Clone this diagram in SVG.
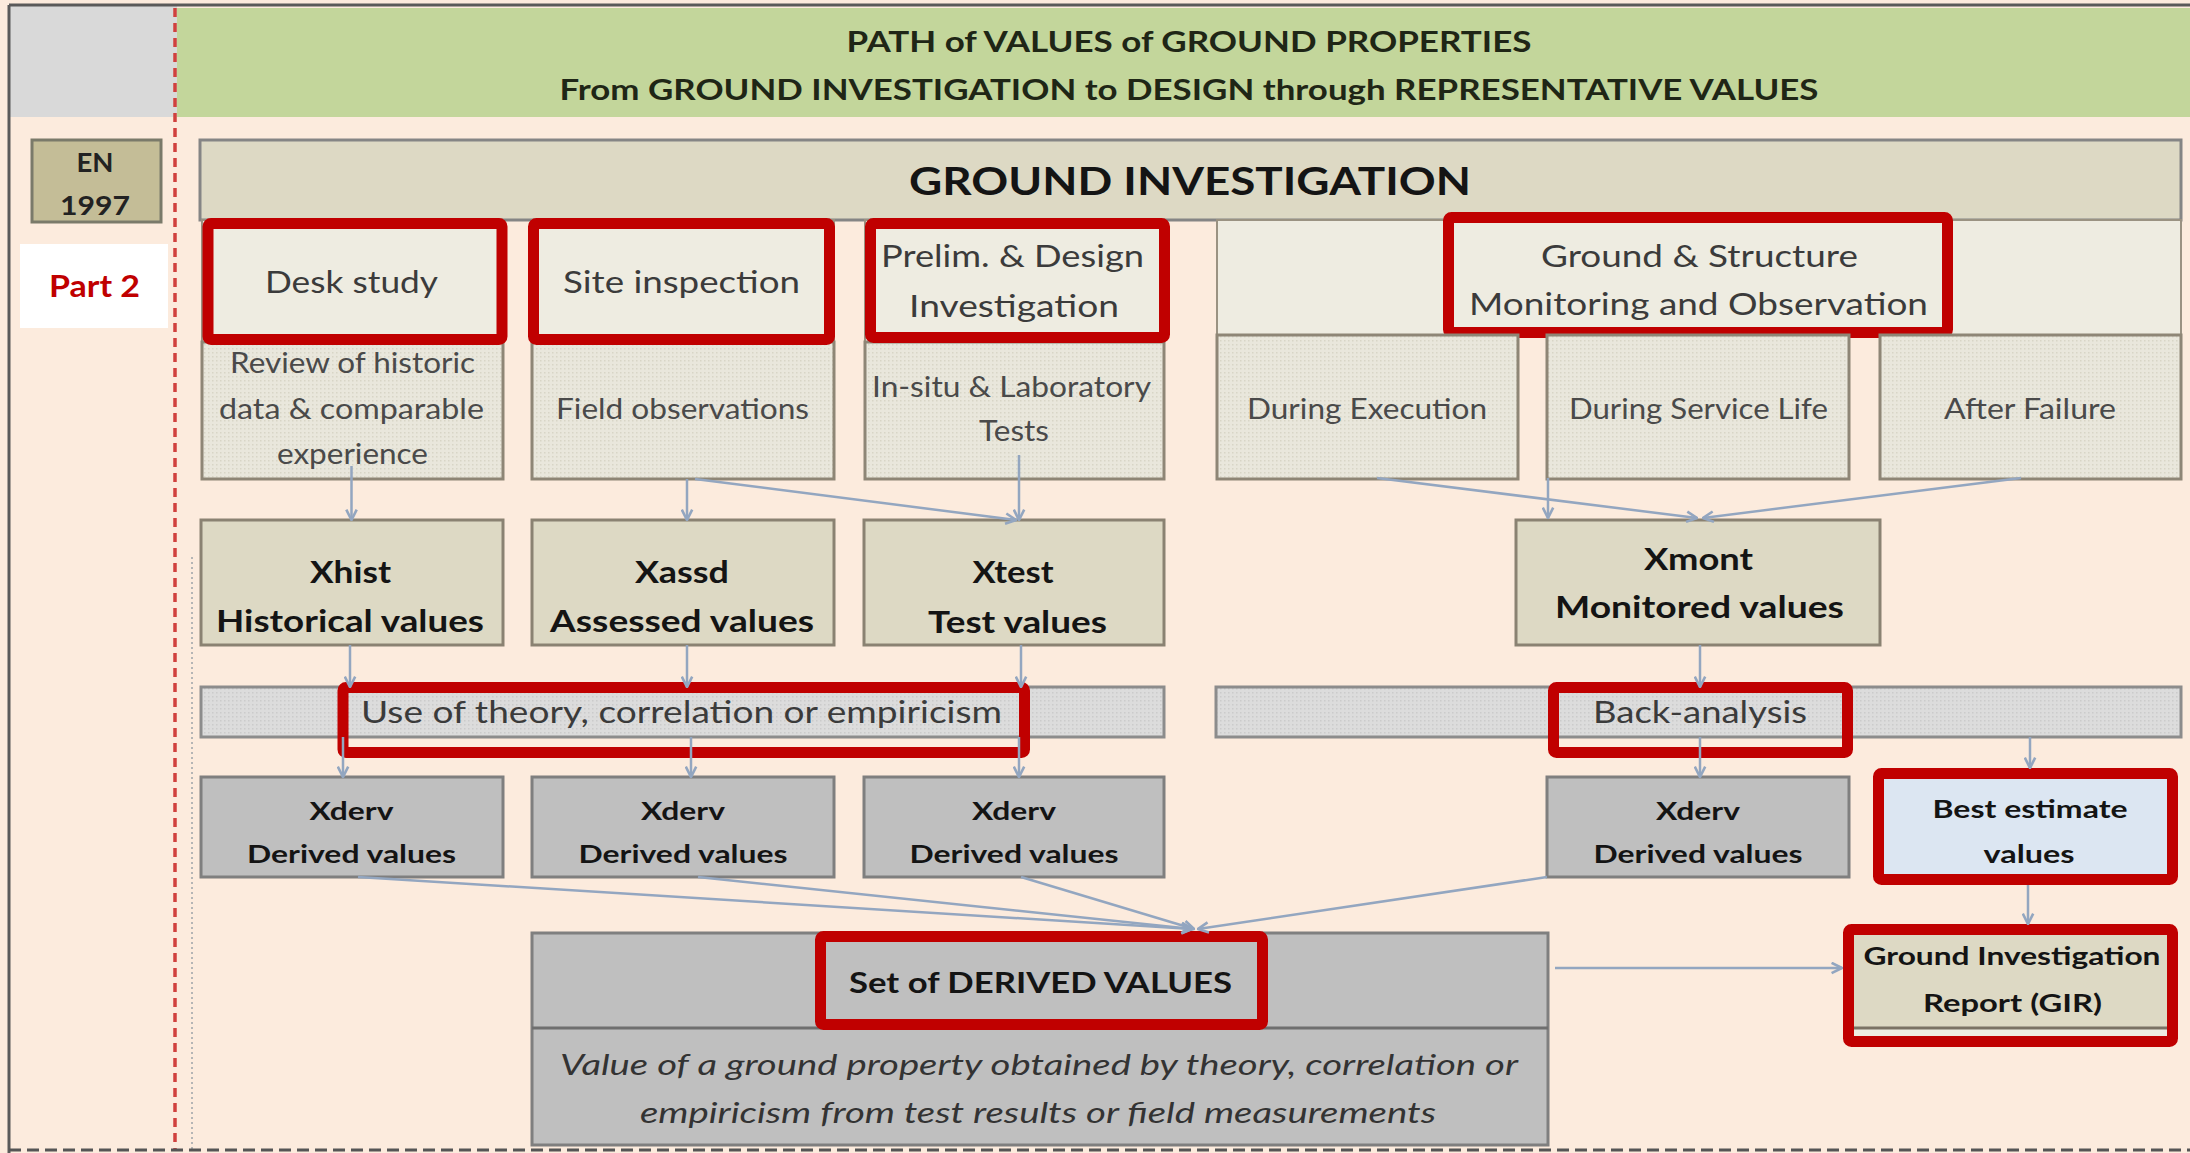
<svg xmlns="http://www.w3.org/2000/svg" width="2190" height="1153" viewBox="0 0 2190 1153">
<defs>
<style>
text{font-family:Lato,"Liberation Sans",sans-serif;text-anchor:middle}
.t{font-weight:bold;fill:#1f2616;font-size:28px}
.lbl{fill:#3b3b3b;font-size:31px}
.sub{fill:#4a4a4a;font-size:28px}
.bx{font-weight:bold;fill:#141414;font-size:30px}
.dv{font-weight:bold;fill:#141414;font-size:25px}
.it{font-style:italic;fill:#333;font-size:29px}
.hdr{fill:#eeece1;stroke:#9a9282;stroke-width:2}
.dot{fill:url(#dots);stroke:#8e8676;stroke-width:3}
.tan{fill:#ddd9c4;stroke:#8a8272;stroke-width:3}
.band{fill:url(#gdots);stroke:#8c8c8c;stroke-width:3}
.gray{fill:#bfbfbf;stroke:#7f7f7f;stroke-width:3}
.red{fill:none;stroke:#c00000;stroke-width:11}
.cn{fill:none;stroke:#93a6c0;stroke-width:2.5;marker-end:url(#ah)}
</style>
<pattern id="dots" width="4" height="4" patternUnits="userSpaceOnUse"><rect width="4" height="4" fill="#e9e7dc"/><rect width="1.5" height="1.5" fill="#d8d5c6"/></pattern>
<pattern id="gdots" width="4" height="4" patternUnits="userSpaceOnUse"><rect width="4" height="4" fill="#dcdcdc"/><rect width="1.5" height="1.5" fill="#cbcbcb"/></pattern>
<marker id="ah" viewBox="0 0 10 10" refX="9" refY="5" markerWidth="13" markerHeight="13" markerUnits="userSpaceOnUse" orient="auto"><path d="M1,1 L9,5 L1,9" fill="none" stroke="#93a6c0" stroke-width="2"/></marker>
</defs>

<rect x="0" y="0" width="2190" height="1153" fill="#fcebdd"/>
<g id="frame">
<rect x="9" y="5" width="168" height="112" fill="#d9d9d9"/>
<rect x="177" y="8" width="2013" height="109" fill="#c3d69b"/>
<line x1="9" y1="5" x2="2190" y2="5" stroke="#5a5a5a" stroke-width="3"/>
<line x1="9" y1="5" x2="9" y2="1153" stroke="#5a5a5a" stroke-width="3"/>
<line x1="175" y1="8" x2="175" y2="1150" stroke="#d0413e" stroke-width="3.5" stroke-dasharray="9 6"/>
<line x1="192" y1="557" x2="192" y2="1150" stroke="#b5b5b5" stroke-width="2" stroke-dasharray="2 3"/>
<line x1="9" y1="1150" x2="2190" y2="1150" stroke="#555" stroke-width="3" stroke-dasharray="12 6"/>
</g>

<g id="title">
<text class="t" x="1189" y="52" textLength="685" lengthAdjust="spacingAndGlyphs">PATH of VALUES of GROUND PROPERTIES</text>
<text class="t" x="1189" y="100" textLength="1259" lengthAdjust="spacingAndGlyphs">From GROUND INVESTIGATION to DESIGN through REPRESENTATIVE VALUES</text>
</g>

<g id="en1997">
<rect x="32" y="140" width="129" height="82" fill="#c4bd97" stroke="#7a7a6a" stroke-width="3"/>
<text x="95" y="172" font-weight="bold" font-size="27" fill="#222" textLength="37" lengthAdjust="spacingAndGlyphs">EN</text>
<text x="95" y="215" font-weight="bold" font-size="27" fill="#222" textLength="70" lengthAdjust="spacingAndGlyphs">1997</text>
</g>
<g id="part2">
<rect x="20" y="244" width="148" height="84" fill="#ffffff"/>
<text x="94.5" y="297" font-weight="bold" font-size="31" fill="#c00000" textLength="91" lengthAdjust="spacingAndGlyphs">Part 2</text>
</g>

<g id="ground-investigation">
<rect x="200" y="140" width="1981" height="80" fill="#ddd9c4" stroke="#858585" stroke-width="3"/>
<text x="1190" y="195" font-weight="bold" font-size="39" fill="#141414" textLength="562" lengthAdjust="spacingAndGlyphs">GROUND INVESTIGATION</text>
</g>

<g id="desk-study">
<rect class="hdr" x="202" y="220" width="301" height="122"/>
<rect class="dot" x="202" y="342" width="301" height="137"/>
<rect class="red" x="208" y="223.5" width="294" height="116" rx="3"/>
<text class="lbl" x="351.5" y="293" textLength="173" lengthAdjust="spacingAndGlyphs">Desk study</text>
<text class="sub" x="352.5" y="373" textLength="245" lengthAdjust="spacingAndGlyphs">Review of historic</text>
<text class="sub" x="351.5" y="419" textLength="265" lengthAdjust="spacingAndGlyphs">data &amp; comparable</text>
<text class="sub" x="352.5" y="464" textLength="151" lengthAdjust="spacingAndGlyphs">experience</text>
</g>

<g id="site-inspection">
<rect class="hdr" x="532" y="220" width="302" height="122"/>
<rect class="dot" x="532" y="342" width="302" height="137"/>
<rect class="red" x="533.5" y="223.5" width="296" height="116" rx="3"/>
<text class="lbl" x="681.5" y="293" textLength="237" lengthAdjust="spacingAndGlyphs">Site inspection</text>
<text class="sub" x="682.5" y="419" textLength="253" lengthAdjust="spacingAndGlyphs">Field observations</text>
</g>

<g id="prelim-design">
<rect class="hdr" x="865" y="220" width="299" height="122"/>
<rect class="dot" x="865" y="342" width="299" height="137"/>
<rect class="red" x="870.5" y="223.5" width="294" height="114" rx="3"/>
<text class="lbl" x="1012.5" y="267" textLength="263" lengthAdjust="spacingAndGlyphs">Prelim. &amp; Design</text>
<text class="lbl" x="1014" y="317" textLength="210" lengthAdjust="spacingAndGlyphs">Investigation</text>
<text class="sub" x="1011.5" y="397" textLength="279" lengthAdjust="spacingAndGlyphs">In-situ &amp; Laboratory</text>
<text class="sub" x="1014" y="441" textLength="70" lengthAdjust="spacingAndGlyphs">Tests</text>
</g>

<g id="monitoring">
<rect class="hdr" x="1217" y="220" width="964" height="115"/>
<rect class="red" x="1448.5" y="217.5" width="499" height="115" rx="3"/>
<text class="lbl" x="1699.5" y="267" textLength="317" lengthAdjust="spacingAndGlyphs">Ground &amp; Structure</text>
<text class="lbl" x="1698.5" y="315" textLength="459" lengthAdjust="spacingAndGlyphs">Monitoring and Observation</text>
</g>
<g id="during-execution">
<rect class="dot" x="1217" y="335" width="301" height="144"/>
<text class="sub" x="1367" y="419" textLength="240" lengthAdjust="spacingAndGlyphs">During Execution</text>
</g>
<g id="during-service-life">
<rect class="dot" x="1547" y="335" width="302" height="144"/>
<text class="sub" x="1698.5" y="419" textLength="259" lengthAdjust="spacingAndGlyphs">During Service Life</text>
</g>
<g id="after-failure">
<rect class="dot" x="1880" y="335" width="301" height="144"/>
<text class="sub" x="2030" y="419" textLength="172" lengthAdjust="spacingAndGlyphs">After Failure</text>
</g>

<g id="xhist">
<rect class="tan" x="201" y="520" width="302" height="125"/>
<text class="bx" x="350.5" y="583" textLength="81" lengthAdjust="spacingAndGlyphs">Xhist</text>
<text class="bx" x="350" y="632" textLength="268" lengthAdjust="spacingAndGlyphs">Historical values</text>
</g>
<g id="xassd">
<rect class="tan" x="532" y="520" width="302" height="125"/>
<text class="bx" x="682" y="583" textLength="94" lengthAdjust="spacingAndGlyphs">Xassd</text>
<text class="bx" x="682" y="632" textLength="264" lengthAdjust="spacingAndGlyphs">Assessed values</text>
</g>
<g id="xtest">
<rect class="tan" x="864" y="520" width="300" height="125"/>
<text class="bx" x="1013" y="583" textLength="81" lengthAdjust="spacingAndGlyphs">Xtest</text>
<text class="bx" x="1017.5" y="633" textLength="179" lengthAdjust="spacingAndGlyphs">Test values</text>
</g>
<g id="xmont">
<rect class="tan" x="1516" y="520" width="364" height="125"/>
<text class="bx" x="1698.5" y="570" textLength="109" lengthAdjust="spacingAndGlyphs">Xmont</text>
<text class="bx" x="1699.5" y="618" textLength="289" lengthAdjust="spacingAndGlyphs">Monitored values</text>
</g>

<g id="theory">
<rect class="band" x="201" y="687" width="963" height="50"/>
<rect class="red" x="343" y="687.5" width="681.5" height="65" rx="3"/>
<text class="lbl" x="681.5" y="723" font-size="28" textLength="641" lengthAdjust="spacingAndGlyphs">Use of theory, correlation or empiricism</text>
</g>
<g id="back-analysis">
<rect class="band" x="1216" y="687" width="965" height="50"/>
<rect class="red" x="1553.5" y="687.5" width="294" height="65" rx="3"/>
<text class="lbl" x="1700" y="723" font-size="29" textLength="214" lengthAdjust="spacingAndGlyphs">Back-analysis</text>
</g>

<g id="xderv1">
<rect class="gray" x="201" y="777" width="302" height="100"/>
<text class="dv" x="351.5" y="820" textLength="84" lengthAdjust="spacingAndGlyphs">Xderv</text>
<text class="dv" x="351.5" y="863" textLength="209" lengthAdjust="spacingAndGlyphs">Derived values</text>
</g>
<g id="xderv2">
<rect class="gray" x="532" y="777" width="302" height="100"/>
<text class="dv" x="683" y="820" textLength="84" lengthAdjust="spacingAndGlyphs">Xderv</text>
<text class="dv" x="683" y="863" textLength="209" lengthAdjust="spacingAndGlyphs">Derived values</text>
</g>
<g id="xderv3">
<rect class="gray" x="864" y="777" width="300" height="100"/>
<text class="dv" x="1014" y="820" textLength="84" lengthAdjust="spacingAndGlyphs">Xderv</text>
<text class="dv" x="1014" y="863" textLength="209" lengthAdjust="spacingAndGlyphs">Derived values</text>
</g>
<g id="xderv4">
<rect class="gray" x="1547" y="777" width="302" height="100"/>
<text class="dv" x="1698" y="820" textLength="84" lengthAdjust="spacingAndGlyphs">Xderv</text>
<text class="dv" x="1698" y="863" textLength="209" lengthAdjust="spacingAndGlyphs">Derived values</text>
</g>

<g id="best-estimate">
<rect x="1878" y="773" width="295" height="107" fill="#dce6f2"/>
<rect class="red" x="1878.5" y="773.5" width="294" height="106" rx="3"/>
<text class="dv" x="2030" y="818" textLength="195" lengthAdjust="spacingAndGlyphs">Best estimate</text>
<text class="dv" x="2029" y="863" textLength="91" lengthAdjust="spacingAndGlyphs">values</text>
</g>

<g id="gir">
<rect x="1848" y="929" width="325" height="112" fill="#eeece1"/>
<rect x="1848" y="929" width="325" height="99" fill="#ddd9c4"/>
<line x1="1848" y1="1028" x2="2173" y2="1028" stroke="#7a7264" stroke-width="3"/>
<rect class="red" x="1848.5" y="929.5" width="324" height="112" rx="3"/>
<text class="dv" x="2012" y="965" textLength="297" lengthAdjust="spacingAndGlyphs">Ground Investigation</text>
<text class="dv" x="2012.5" y="1012" textLength="179" lengthAdjust="spacingAndGlyphs">Report (GIR)</text>
</g>

<g id="set-derived">
<rect class="gray" x="532" y="933" width="1016" height="212"/>
<line x1="532" y1="1028" x2="1548" y2="1028" stroke="#6f6f6f" stroke-width="3"/>
<rect class="red" x="820.5" y="936.5" width="442" height="88" rx="3"/>
<text x="1040.5" y="993" font-weight="bold" font-size="28" fill="#141414" textLength="383" lengthAdjust="spacingAndGlyphs">Set of DERIVED VALUES</text>
<text class="it" x="1039" y="1075" textLength="958" lengthAdjust="spacingAndGlyphs">Value of a ground property obtained by theory, correlation or</text>
<text class="it" x="1038" y="1123" textLength="796" lengthAdjust="spacingAndGlyphs">empiricism from test results or field measurements</text>
</g>

<g id="connectors">
<path class="cn" d="M351.5,466 V520"/>
<path class="cn" d="M687,479 V520"/>
<path class="cn" d="M695,479 L1016,520"/>
<path class="cn" d="M1019,455 V520"/>
<path class="cn" d="M1377,478 L1697,518"/>
<path class="cn" d="M1548,478 V518"/>
<path class="cn" d="M2021,478 L1703,518"/>
<path class="cn" d="M350,645 V687"/>
<path class="cn" d="M687,645 V687"/>
<path class="cn" d="M1021,645 V687"/>
<path class="cn" d="M1700,645 V687"/>
<path class="cn" d="M343,737 V777"/>
<path class="cn" d="M691,737 V777"/>
<path class="cn" d="M1019,737 V777"/>
<path class="cn" d="M1700,737 V777"/>
<path class="cn" d="M2030,737 V768"/>
<path class="cn" d="M2028,885 V924"/>
<path class="cn" d="M358,877 L1192,929"/>
<path class="cn" d="M698,877 L1192,929"/>
<path class="cn" d="M1021,877 L1194,929"/>
<path class="cn" d="M1547,877 L1198,929"/>
<path class="cn" d="M1555,968 H1842"/>
</g>
</svg>
